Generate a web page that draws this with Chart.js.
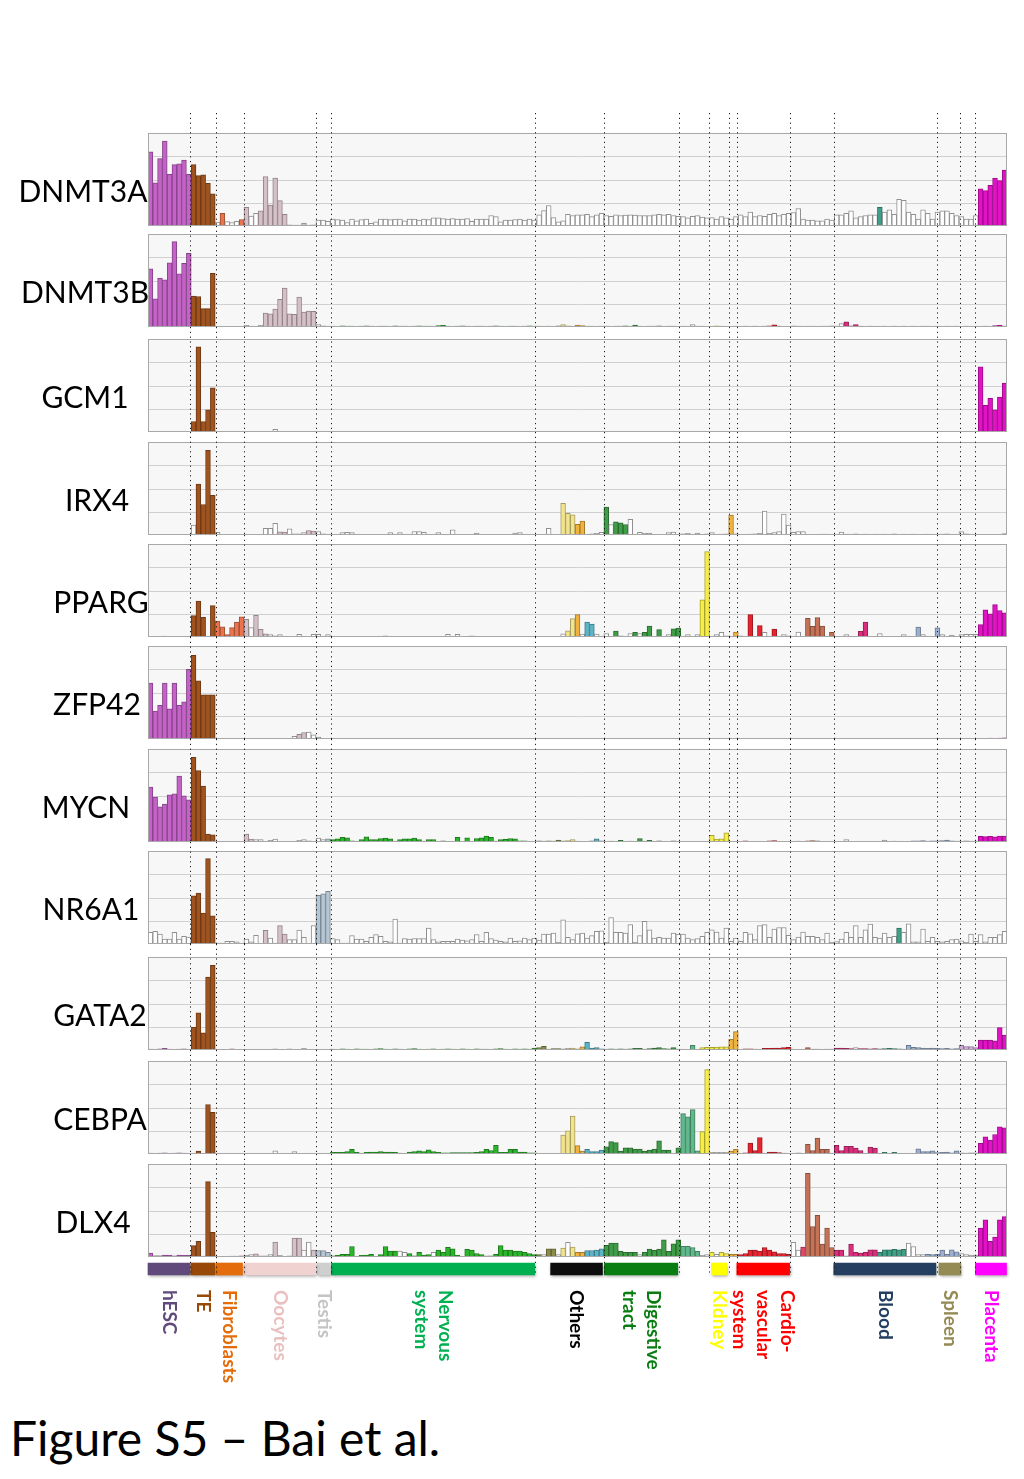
<!DOCTYPE html>
<html>
<head>
<meta charset="utf-8">
<script src="https://cdn.jsdelivr.net/npm/chart.js@4.4.1/dist/chart.umd.min.js"></script>
<style>
  html, body { margin: 0; padding: 0; background: #fff; }
  body { position: relative; width: 1024px; height: 1479px; overflow: hidden; font-family: Lato, "Open Sans", sans-serif; }
  canvas { position: absolute; left: 0; }
  .gene { position: absolute; font-size: 30px; line-height: 1; white-space: nowrap; transform: translate(-50%, -50%); color: #000; }
  #title { position: absolute; left: 10px; top: 1414px; font-size: 48px; line-height: 1; white-space: nowrap; color: #000; }
</style>
</head>
<body>
<div id="title">Figure S5 – Bai et al.</div>
<script>
// ---- data ----
const genes = ["DNMT3A", "DNMT3B", "GCM1", "IRX4", "PPARG", "ZFP42", "MYCN", "NR6A1", "GATA2", "CEBPA", "DLX4"];

// bar order: hESC(9) TE(5) Fibro(6) Oocytes(15) Testis(3) Nervous(43) Others(14) Digestive(16)
// unlabelled(4) Kidney(6) unlabelled(2) Cardio(11) unlabelled(9) Blood(21) Spleen(5) unlabelled(4) Placenta(6)
const dnmt3a = [
  3.19, 1.86, 2.9, 3.65, 2.22, 2.64, 2.67, 2.83, 2.22,
  2.64, 2.17, 2.2, 1.84, 1.38,
  0.17, 0.54, 0.19, 0.15, 0.2, 0.28,
  0.8, 0.43, 0.55, 0.65, 2.13, 0.9, 2.06, 1.09, 0.5, 0.05, 0.04, 0.04, 0.13, 0.04, 0.05,
  0.25, 0.25, 0.2,
  0.3, 0.28, 0.25, 0.15, 0.3, 0.22, 0.28, 0.3, 0.12, 0.18, 0.3, 0.3, 0.28, 0.3, 0.3, 0.22, 0.3, 0.3, 0.25, 0.3,
  0.28, 0.35, 0.35, 0.32, 0.3, 0.32, 0.3, 0.3, 0.32, 0.2, 0.3, 0.3, 0.3, 0.45, 0.4, 0.18, 0.25, 0.25, 0.28, 0.3,
  0.25, 0.3, 0.25,
  0.48, 0.66, 0.88, 0.36, 0.18, 0.22, 0.5, 0.45, 0.48, 0.48, 0.5, 0.4, 0.48, 0.55,
  0.45, 0.42, 0.48, 0.45, 0.47, 0.48, 0.47, 0.45, 0.45, 0.45, 0.48, 0.5, 0.48, 0.5, 0.45, 0.42,
  0.4, 0.35, 0.42, 0.45,
  0.38, 0.35, 0.36, 0.3, 0.4, 0.35,
  0.3, 0.4,
  0.48, 0.4, 0.6, 0.4, 0.45, 0.42, 0.5, 0.55, 0.45, 0.5, 0.55,
  0.58, 0.75, 0.3, 0.25, 0.25, 0.22, 0.22, 0.3, 0.25,
  0.48, 0.48, 0.55, 0.65, 0.35, 0.4, 0.45, 0.48, 0.48, 0.8, 0.6, 0.7, 0.5, 1.15, 1.1, 0.6, 0.5, 0.3, 0.7, 0.55, 0.3,
  0.6, 0.65, 0.65, 0.55, 0.45,
  0.4, 0.3, 0.3, 0.45,
  1.6, 1.52, 1.75, 2.05, 1.95, 2.4
];
const dnmt3b = [
  2.5, 1.21, 2.1, 2.03, 2.76, 3.67, 2.29, 2.74, 3.17,
  1.33, 1.31, 0.79, 0.79, 2.31,
  0.03, 0.02, 0.03, 0.02, 0.03, 0.03,
  0.07, 0.04, 0.03, 0.07, 0.6, 0.57, 0.77, 1.19, 1.67, 0.57, 0.54, 1.29, 0.64, 0.69, 0.67,
  0.1, 0.05, 0.04,
  0.04, 0.03, 0.05, 0.04, 0.04, 0.03, 0.04, 0.05, 0.04, 0.03, 0.04, 0.04, 0.03, 0.05, 0.04, 0.04, 0.03, 0.04, 0.05, 0.04,
  0.04, 0.03, 0.06, 0.07, 0.04, 0.03, 0.04, 0.05, 0.04, 0.03, 0.04, 0.04, 0.03, 0.04, 0.05, 0.04, 0.03, 0.04, 0.04, 0.03,
  0.04, 0.05, 0.04,
  0.04, 0.03, 0.04, 0.03, 0.05, 0.1, 0.05, 0.04, 0.08, 0.06, 0.04, 0.04, 0.03, 0.04,
  0.04, 0.03, 0.04, 0.04, 0.05, 0.04, 0.08, 0.04, 0.03, 0.04, 0.04, 0.05, 0.03, 0.04, 0.04, 0.03,
  0.04, 0.03, 0.1, 0.04,
  0.04, 0.03, 0.04, 0.05, 0.04, 0.03,
  0.03, 0.04,
  0.03, 0.04, 0.03, 0.04, 0.03, 0.04, 0.05, 0.09, 0.04, 0.03, 0.03,
  0.05, 0.04, 0.03, 0.04, 0.04, 0.03, 0.04, 0.04, 0.05,
  0.04, 0.15, 0.22, 0.05, 0.1, 0.04, 0.03, 0.04, 0.03, 0.03, 0.04, 0.03, 0.04, 0.03, 0.04, 0.03, 0.04, 0.03, 0.04, 0.04, 0.03,
  0.04, 0.03, 0.04, 0.03, 0.04,
  0.03, 0.04, 0.03, 0.04,
  0.03, 0.04, 0.03, 0.06, 0.07, 0.04
];
const gcm1 = [
  0.02, 0.02, 0.03, 0.02, 0.02, 0.02, 0.03, 0.02, 0.02,
  0.45, 3.66, 0.45, 0.95, 1.9,
  0.02, 0.02, 0.02, 0.02, 0.02, 0.02,
  0.02, 0.02, 0.02, 0.02, 0.02, 0.02, 0.12, 0.02, 0.02, 0.02, 0.02, 0.02, 0.02, 0.02, 0.02,
  0.02, 0.02, 0.02,
  0.02, 0.02, 0.02, 0.03, 0.02, 0.02, 0.02, 0.02, 0.03, 0.02, 0.02, 0.02, 0.02, 0.02, 0.03, 0.02, 0.02, 0.02, 0.02, 0.02,
  0.03, 0.02, 0.02, 0.02, 0.02, 0.02, 0.03, 0.02, 0.02, 0.02, 0.02, 0.02, 0.02, 0.03, 0.02, 0.02, 0.02, 0.02, 0.02, 0.03,
  0.02, 0.02, 0.02,
  0.02, 0.02, 0.03, 0.02, 0.02, 0.02, 0.02, 0.03, 0.02, 0.02, 0.02, 0.02, 0.02, 0.02,
  0.02, 0.02, 0.02, 0.03, 0.02, 0.02, 0.02, 0.02, 0.02, 0.03, 0.02, 0.02, 0.02, 0.02, 0.02, 0.02,
  0.02, 0.02, 0.02, 0.02,
  0.02, 0.03, 0.02, 0.02, 0.02, 0.02,
  0.02, 0.02,
  0.02, 0.02, 0.02, 0.03, 0.02, 0.02, 0.02, 0.02, 0.02, 0.02, 0.02,
  0.02, 0.02, 0.02, 0.02, 0.03, 0.02, 0.02, 0.02, 0.02,
  0.02, 0.02, 0.02, 0.02, 0.02, 0.03, 0.02, 0.02, 0.02, 0.02, 0.02, 0.02, 0.02, 0.02, 0.02, 0.02, 0.03, 0.02, 0.02, 0.02, 0.02,
  0.02, 0.02, 0.02, 0.02, 0.02,
  0.02, 0.02, 0.02, 0.02,
  2.8, 1.15, 1.45, 0.95, 1.5, 2.1
];
const irx4 = [
  0.03, 0.02, 0.03, 0.02, 0.02, 0.03, 0.02, 0.02, 0.03,
  0.43, 2.19, 1.31, 3.64, 1.71,
  0.11, 0.02, 0.02, 0.02, 0.02, 0.02,
  0.02, 0.02, 0.02, 0.02, 0.29, 0.29, 0.5, 0.14, 0.13, 0.27, 0.05, 0.05, 0.1, 0.19, 0.17,
  0.15, 0.05, 0.03,
  0.02, 0.02, 0.1, 0.12, 0.1, 0.03, 0.02, 0.02, 0.03, 0.02, 0.03, 0.02, 0.1, 0.03, 0.1, 0.03, 0.02, 0.15, 0.15, 0.12,
  0.03, 0.03, 0.1, 0.02, 0.03, 0.22, 0.03, 0.02, 0.02, 0.03, 0.08, 0.03, 0.02, 0.02, 0.03, 0.02, 0.03, 0.02, 0.08, 0.1,
  0.03, 0.02, 0.03,
  0.03, 0.03, 0.29, 0.03, 0.03, 1.36, 0.93, 0.87, 0.46, 0.6, 0.03, 0.05, 0.07, 0.11,
  1.2, 0.45, 0.57, 0.52, 0.45, 0.67, 0.03, 0.11, 0.07, 0.08, 0.03, 0.02, 0.03, 0.1, 0.13, 0.03,
  0.05, 0.07, 0.03, 0.08,
  0.03, 0.05, 0.1, 0.03, 0.04, 0.05,
  0.86, 0.05,
  0.03, 0.03, 0.04, 0.05, 0.07, 1.03, 0.07, 0.1, 0.15, 0.9, 0.43,
  0.12, 0.15, 0.15, 0.03, 0.03, 0.03, 0.04, 0.04, 0.03,
  0.03, 0.13, 0.04, 0.03, 0.05, 0.03, 0.04, 0.03, 0.04, 0.03, 0.04, 0.03, 0.05, 0.03, 0.04, 0.03, 0.04, 0.03, 0.03, 0.04, 0.03,
  0.03, 0.04, 0.05, 0.03, 0.03,
  0.15, 0.05, 0.03, 0.03,
  0.02, 0.02, 0.02, 0.02, 0.03, 0.06
];
const pparg = [
  0.03, 0.03, 0.02, 0.04, 0.03, 0.02, 0.03, 0.02, 0.03,
  0.92, 1.54, 0.85, 0.03, 1.35,
  0.69, 0.44, 0.1, 0.4, 0.64, 0.87,
  0.76, 0.4, 0.93, 0.33, 0.14, 0.1, 0.05, 0.1, 0.02, 0.02, 0.02, 0.12, 0.02, 0.02, 0.12,
  0.12, 0.03, 0.1,
  0.03, 0.02, 0.02, 0.03, 0.02, 0.02, 0.03, 0.02, 0.02, 0.03, 0.02, 0.05, 0.02, 0.02, 0.03, 0.02, 0.02, 0.02, 0.03, 0.02,
  0.02, 0.03, 0.02, 0.02, 0.12, 0.02, 0.12, 0.02, 0.03, 0.05, 0.02, 0.02, 0.03, 0.02, 0.02, 0.02, 0.03, 0.02, 0.02, 0.02,
  0.03, 0.02, 0.02,
  0.02, 0.02, 0.03, 0.03, 0.03, 0.14, 0.27, 0.79, 0.96, 0.13, 0.64, 0.56, 0.13, 0.03,
  0.15, 0.03, 0.25, 0.05, 0.03, 0.15, 0.2, 0.15, 0.2, 0.47, 0.03, 0.32, 0.03, 0.1, 0.35, 0.38,
  0.03, 0.1, 0.03, 0.1,
  1.6, 3.67, 0.03, 0.1, 0.2, 0.05,
  0.03, 0.21,
  0.05, 0.03, 0.96, 0.03, 0.49, 0.2, 0.03, 0.34, 0.03, 0.1, 0.05,
  0.03, 0.21, 0.03, 0.8, 0.46, 0.84, 0.47, 0.03, 0.2,
  0.03, 0.03, 0.1, 0.03, 0.03, 0.24, 0.64, 0.03, 0.03, 0.15, 0.03, 0.03, 0.03, 0.03, 0.1, 0.03, 0.03, 0.43, 0.1, 0.03, 0.03,
  0.39, 0.1, 0.03, 0.08, 0.03,
  0.1, 0.12, 0.12, 0.12,
  0.53, 1.17, 1.0, 1.39, 1.14, 1.04
];
const zfp42 = [
  2.4, 1.2, 1.45, 2.4, 1.3, 2.4, 1.45, 1.6, 3.0,
  3.6, 2.5, 1.9, 1.9, 1.9,
  0.03, 0.02, 0.02, 0.02, 0.02, 0.02,
  0.02, 0.02, 0.02, 0.02, 0.02, 0.02, 0.02, 0.02, 0.02, 0.03, 0.12, 0.2, 0.28, 0.3, 0.18,
  0.08, 0.03, 0.03,
  0.02, 0.03, 0.02, 0.02, 0.03, 0.02, 0.02, 0.03, 0.02, 0.02, 0.03, 0.02, 0.02, 0.03, 0.02, 0.02, 0.03, 0.02, 0.02, 0.02,
  0.03, 0.02, 0.02, 0.03, 0.02, 0.02, 0.03, 0.02, 0.02, 0.03, 0.02, 0.02, 0.03, 0.02, 0.02, 0.03, 0.02, 0.02, 0.03, 0.02,
  0.02, 0.03, 0.02,
  0.03, 0.02, 0.02, 0.03, 0.02, 0.02, 0.03, 0.02, 0.02, 0.03, 0.02, 0.02, 0.03, 0.02,
  0.02, 0.03, 0.02, 0.02, 0.03, 0.02, 0.02, 0.03, 0.02, 0.02, 0.03, 0.02, 0.02, 0.03, 0.02, 0.02,
  0.02, 0.03, 0.02, 0.02,
  0.03, 0.02, 0.02, 0.03, 0.02, 0.02,
  0.02, 0.03,
  0.02, 0.02, 0.03, 0.02, 0.02, 0.03, 0.02, 0.02, 0.03, 0.02, 0.02,
  0.02, 0.03, 0.02, 0.02, 0.03, 0.02, 0.02, 0.03, 0.02,
  0.03, 0.02, 0.02, 0.03, 0.02, 0.02, 0.03, 0.02, 0.02, 0.03, 0.02, 0.02, 0.03, 0.02, 0.02, 0.03, 0.02, 0.02, 0.03, 0.02, 0.02,
  0.02, 0.03, 0.02, 0.02, 0.03,
  0.02, 0.02, 0.03, 0.02,
  0.03, 0.03, 0.04, 0.03, 0.04, 0.05
];
const mycn = [
  2.36, 1.93, 1.51, 1.63, 2.03, 2.07, 2.84, 1.99, 1.81,
  3.64, 3.07, 2.41, 0.34, 0.31,
  0.02, 0.02, 0.02, 0.02, 0.02, 0.02,
  0.34, 0.13, 0.1, 0.1, 0.02, 0.07, 0.13, 0.03, 0.02, 0.02, 0.02, 0.07, 0.1, 0.05, 0.03,
  0.17, 0.1, 0.14,
  0.1, 0.14, 0.2, 0.18, 0.05, 0.03, 0.1, 0.22, 0.1, 0.1, 0.15, 0.17, 0.14, 0.02, 0.1, 0.14, 0.14, 0.17, 0.1, 0.03,
  0.1, 0.1, 0.03, 0.05, 0.02, 0.03, 0.2, 0.03, 0.18, 0.03, 0.15, 0.18, 0.25, 0.2, 0.03, 0.1, 0.12, 0.15, 0.14, 0.05,
  0.05, 0.03, 0.03,
  0.05, 0.04, 0.05, 0.04, 0.08, 0.05, 0.06, 0.1, 0.04, 0.03, 0.03, 0.05, 0.14, 0.05,
  0.03, 0.04, 0.03, 0.07, 0.03, 0.04, 0.03, 0.15, 0.04, 0.07, 0.03, 0.05, 0.03, 0.03, 0.05, 0.03,
  0.03, 0.03, 0.03, 0.03,
  0.02, 0.02, 0.29, 0.13, 0.14, 0.39,
  0.03, 0.03,
  0.03, 0.05, 0.03, 0.03, 0.03, 0.03, 0.05, 0.06, 0.03, 0.03, 0.03,
  0.03, 0.04, 0.03, 0.05, 0.06, 0.05, 0.03, 0.03, 0.03,
  0.03, 0.03, 0.1, 0.03, 0.03, 0.03, 0.03, 0.03, 0.03, 0.03, 0.08, 0.03, 0.04, 0.03, 0.03, 0.03, 0.05, 0.05, 0.06, 0.04, 0.05,
  0.05, 0.06, 0.08, 0.05, 0.04,
  0.04, 0.05, 0.04, 0.04,
  0.24, 0.23, 0.24, 0.22, 0.25, 0.25
];
const nr6a1 = [
  0.5, 0.54, 0.43, 0.21, 0.21, 0.5, 0.21, 0.33, 0.3,
  2.07, 2.19, 1.33, 3.67, 1.21,
  0.04, 0.04, 0.11, 0.11, 0.09, 0.03,
  0.21, 0.09, 0.37, 0.03, 0.59, 0.26, 0.04, 0.79, 0.43, 0.19, 0.19, 0.6, 0.29, 0.02, 0.79,
  2.09, 2.16, 2.27,
  0.23, 0.19, 0.04, 0.04, 0.36, 0.21, 0.21, 0.11, 0.29, 0.4, 0.33, 0.11, 0.09, 1.07, 0.04, 0.23, 0.21, 0.23, 0.23, 0.23,
  0.69, 0.19, 0.09, 0.11, 0.11, 0.11, 0.21, 0.17, 0.14, 0.19, 0.4, 0.11, 0.5, 0.23, 0.17, 0.11, 0.09, 0.26, 0.11, 0.14,
  0.26, 0.19, 0.26,
  0.17, 0.43, 0.43, 0.47, 0.07, 1.04, 0.29, 0.19, 0.44, 0.47, 0.26, 0.36, 0.54, 0.57,
  0.07, 1.14, 0.5, 0.5, 0.47, 0.83, 0.07, 0.36, 0.97, 0.61, 0.26, 0.29, 0.26, 0.26, 0.47, 0.43,
  0.43, 0.26, 0.19, 0.23,
  0.33, 0.5, 0.61, 0.51, 0.26, 0.69,
  0.11, 0.26,
  0.11, 0.5, 0.44, 0.19, 0.79, 0.83, 0.29, 0.64, 0.71, 0.71, 0.37,
  0.19, 0.3, 0.51, 0.33, 0.33, 0.29, 0.19, 0.47, 0.07,
  0.1, 0.21, 0.5, 0.29, 0.79, 0.29, 0.61, 0.86, 0.29, 0.26, 0.47, 0.29, 0.33, 0.69, 0.5, 0.87, 0.09, 0.09, 0.64, 0.11, 0.29,
  0.11, 0.09, 0.11, 0.19, 0.21,
  0.14, 0.07, 0.43, 0.11,
  0.4, 0.09, 0.29, 0.29, 0.4, 0.54
];
const gata2 = [
  0.04, 0.03, 0.05, 0.07, 0.04, 0.03, 0.04, 0.05, 0.03,
  0.97, 1.6, 0.74, 3.14, 3.64,
  0.02, 0.02, 0.02, 0.05, 0.03, 0.02,
  0.02, 0.02, 0.03, 0.02, 0.02, 0.02, 0.05, 0.02, 0.03, 0.05, 0.02, 0.02, 0.07, 0.02, 0.02,
  0.03, 0.03, 0.03,
  0.04, 0.03, 0.05, 0.04, 0.03, 0.05, 0.04, 0.04, 0.03, 0.05, 0.06, 0.04, 0.03, 0.05, 0.04, 0.03, 0.05, 0.06, 0.04, 0.03,
  0.04, 0.05, 0.03, 0.04, 0.05, 0.04, 0.03, 0.05, 0.04, 0.03, 0.05, 0.04, 0.04, 0.03, 0.05, 0.06, 0.04, 0.03, 0.05, 0.04,
  0.05, 0.04, 0.08,
  0.1, 0.16, 0.04, 0.06, 0.06, 0.05, 0.07, 0.08, 0.05, 0.14, 0.33, 0.08, 0.1, 0.05,
  0.04, 0.05, 0.04, 0.05, 0.04, 0.05, 0.07, 0.07, 0.04, 0.06, 0.08, 0.1, 0.06, 0.05, 0.1, 0.04,
  0.03, 0.02, 0.2, 0.03,
  0.1, 0.12, 0.12, 0.13, 0.14, 0.14,
  0.46, 0.79,
  0.03, 0.05, 0.05, 0.04, 0.03, 0.07, 0.07, 0.08, 0.08, 0.1, 0.12,
  0.02, 0.02, 0.03, 0.1, 0.04, 0.04, 0.03, 0.04, 0.04,
  0.08, 0.08, 0.07, 0.06, 0.1, 0.06, 0.06, 0.05, 0.06, 0.05, 0.06, 0.07, 0.06, 0.05, 0.04, 0.2, 0.12, 0.1, 0.08, 0.07, 0.08,
  0.07, 0.06, 0.07, 0.05, 0.06,
  0.2, 0.15, 0.15, 0.1,
  0.43, 0.43, 0.43, 0.39, 0.96, 0.64
];
const cebpa = [
  0.04, 0.03, 0.04, 0.05, 0.03, 0.04, 0.05, 0.04, 0.03,
  0.02, 0.13, 0.02, 2.13, 1.79,
  0.02, 0.02, 0.02, 0.02, 0.02, 0.02,
  0.02, 0.02, 0.02, 0.02, 0.02, 0.02, 0.14, 0.02, 0.02, 0.02, 0.1, 0.02, 0.02, 0.02, 0.02,
  0.03, 0.03, 0.03,
  0.07, 0.07, 0.07, 0.1, 0.2, 0.07, 0.02, 0.07, 0.08, 0.08, 0.1, 0.08, 0.08, 0.07, 0.04, 0.02, 0.08, 0.1, 0.14, 0.1,
  0.18, 0.1, 0.07, 0.05, 0.05, 0.06, 0.06, 0.06, 0.06, 0.06, 0.07, 0.1, 0.2, 0.15, 0.37, 0.07, 0.07, 0.2, 0.2, 0.08,
  0.08, 0.05, 0.05,
  0.03, 0.03, 0.03, 0.03, 0.03, 0.81, 1.0, 1.63, 0.36, 0.13, 0.2, 0.1, 0.1, 0.17,
  0.31, 0.53, 0.49, 0.13, 0.27, 0.27, 0.21, 0.21, 0.13, 0.17, 0.21, 0.57, 0.17, 0.17, 0.03, 0.27,
  1.74, 1.6, 1.91, 0.14,
  0.96, 3.63, 0.07, 0.07, 0.07, 0.07,
  0.13, 0.2,
  0.03, 0.05, 0.47, 0.15, 0.71, 0.03, 0.08, 0.08, 0.06, 0.04, 0.02,
  0.03, 0.05, 0.03, 0.42, 0.15, 0.68, 0.2, 0.2, 0.03,
  0.37, 0.15, 0.33, 0.33, 0.25, 0.15, 0.03, 0.3, 0.25, 0.03, 0.07, 0.03, 0.07, 0.03, 0.02, 0.02, 0.02, 0.22, 0.1, 0.1, 0.14,
  0.06, 0.07, 0.08, 0.05, 0.14,
  0.05, 0.04, 0.05, 0.05,
  0.46, 0.74, 0.6, 0.84, 1.17, 1.13
];
const dlx4 = [
  0.17, 0.06, 0.06, 0.08, 0.07, 0.05, 0.08, 0.07, 0.07,
  0.49, 0.67, 0.04, 3.24, 1.06,
  0.03, 0.03, 0.03, 0.04, 0.04, 0.05,
  0.07, 0.1, 0.14, 0.05, 0.05, 0.1, 0.64, 0.07, 0.03, 0.05, 0.81, 0.81, 0.3, 0.64, 0.3,
  0.28, 0.28, 0.2,
  0.05, 0.07, 0.12, 0.12, 0.45, 0.03, 0.07, 0.08, 0.12, 0.03, 0.1, 0.45, 0.25, 0.25, 0.25, 0.2, 0.15, 0.05, 0.2, 0.08,
  0.1, 0.2, 0.3, 0.2, 0.42, 0.35, 0.07, 0.03, 0.33, 0.3, 0.15, 0.1, 0.05, 0.05, 0.12, 0.49, 0.3, 0.3, 0.25, 0.25,
  0.2, 0.15, 0.1,
  0.1, 0.1, 0.35, 0.35, 0.1, 0.38, 0.63, 0.43, 0.2, 0.2, 0.28, 0.28, 0.3, 0.35,
  0.5, 0.6, 0.6, 0.24, 0.2, 0.2, 0.2, 0.1, 0.2, 0.34, 0.29, 0.34, 0.74, 0.24, 0.57, 0.74,
  0.46, 0.46, 0.41, 0.24,
  0.07, 0.1, 0.2, 0.12, 0.2, 0.15,
  0.12, 0.12,
  0.1, 0.15, 0.3, 0.3, 0.25, 0.41, 0.3, 0.22, 0.15, 0.15, 0.12,
  0.63, 0.3, 0.43, 3.6, 1.31, 1.79, 0.56, 1.24, 0.41,
  0.3, 0.3, 0.05, 0.56, 0.2, 0.17, 0.2, 0.31, 0.31, 0.2, 0.31, 0.31, 0.33, 0.31, 0.33, 0.6, 0.45, 0.1, 0.1, 0.12, 0.1,
  0.12, 0.3, 0.12, 0.31, 0.22,
  0.15, 0.1, 0.08, 0.08,
  1.24, 1.6, 0.67, 0.86, 1.6, 1.74
];
const geneValues = [dnmt3a, dnmt3b, gcm1, irx4, pparg, zfp42, mycn, nr6a1, gata2, cebpa, dlx4];

// which bars are drawn in their tissue colour (1) or as open white bars (0); "c*n" repeats c n times
const geneFills = [
  "1*9 1*5 010001 100111111000100 000 0*43 0*14 0*16 0*4 0*6 00 0*11 0*9 0*9 1 0*11 0*5 0*4 1*6",
  "1*9 1*5 0*6 0000 1*11 000 1*43 1*14 1*16 1101 1*6 11 1*11 0*9 1011 1*17 1*5 0*4 1*6",
  "0*9 1*5 0*6 0*15 0*3 0*43 0*14 0*16 0*4 0*6 0*2 0*11 0*9 0*21 0*5 0*4 1*6",
  "0*9 01111 0*6 000000011000011 000 0*43 0*5 11111 0*4 101110 0*10 0*4 0*6 10 0*11 0*9 0*21 0*5 0*4 0*6",
  "0*9 11101 1*6 101110000000000 000 0*43 0*6 111011 00 0010001011010011 0*4 110000 01 00101001000 000111101 0000011 0*10 1000 10000 0000 111111",
  "1*9 1*5 0*6 0*10 01100 000 1*43 0*14 1*16 0*4 0*6 0*2 1*11 0*9 1*21 0*5 0*4 1*6",
  "1*9 1*5 0*6 11 0*13 001 1*43 1*14 1*16 1*4 1*6 11 1*11 1*9 11 0 1*7 0 1*10 1*5 1*4 1*6",
  "0*9 1*5 0*6 000010011000000 111 0*43 0*14 0*16 0*4 0*6 0*2 0*11 0*9 0*13 1 0*7 0*5 0*4 0*6",
  "1*9 1*5 1*6 0*15 0*3 1*43 1*5 00 1*7 1*16 1*4 1*6 11 1*11 1*9 1111 0 1*16 1*5 1*4 1*6",
  "1*9 1*5 0*6 0*15 0*3 1*43 0*5 1*9 1*16 1*4 11 0000 11 1*11 00 1*7 1*21 1*5 0 111 1*6",
  "100111111 11011 1*6 001000100011001 111 1*9 0 1*4 00 1*5 0 1*10 0 1*10 10110101111111 1*7 0 1*8 1*4 001011 11 1*11 001111111 110 1*12 0000 11 1*5 0*4 1*6"
];

// tissue colour of each bar, as runs of bars
const runSizes = [9, 5, 6, 15, 3, 43, 5, 3, 2, 4, 16, 4, 6, 2, 11, 3, 6, 9, 6, 6, 5, 4, 6];
const runColors = ["#c462c8", "#a0531e", "#e9744d", "#d6c0c8", "#b4c5d3", "#2bb52b", "#8c8c4a", "#f2e48c", "#f1b33f",
  "#5cb4c7", "#3f9c47", "#60b98c", "#f6ee45", "#f1b33f", "#e8242e", "#e2476b", "#c57257", "#dc2e7c", "#40a087",
  "#9bafd1", "#9bafd1", "#d3a8da", "#e312c6"];

// tissue bands under the panels (in bar units) and their labels
const tissueNames = ["hESC", "TE", "Fibroblasts", "Oocytes", "Testis", "Nervous\nsystem", "Others", "Digestive\ntract",
  "Kidney", "Cardio-\nvascular\nsystem", "Blood", "Spleen", "Placenta"];
const tissueStart = [0, 8.9, 14.1, 20.1, 35.2, 38.2, 83.9, 95.1, 117.4, 122.7, 142.9, 164.8, 172.4];
const tissueEnd = [8.7, 13.9, 19.7, 35.0, 38.0, 80.6, 94.7, 110.4, 120.6, 133.7, 164.2, 169.4, 178.9];
const tissueColors = ["#604a7b", "#984807", "#e46c0a", "#f0d2d0", "#cfcfcf", "#00b050", "#0d0d0d", "#0a7d12",
  "#ffff00", "#ff0000", "#243f60", "#948a54", "#ff00ff"];
const labelColors = ["#604a7b", "#984807", "#e46c0a", "#e9c0bf", "#c4c4c4", "#00b050", "#000000", "#0a7d12",
  "#ffff00", "#ff0000", "#243f60", "#948a54", "#ff00ff"];

// dotted separators, in bar units
const dividers = [8.85, 14.1, 20.0, 35.1, 38.2, 80.6, 95.1, 110.6, 116.9, 121.0, 122.7, 133.8, 142.9, 164.4, 169.25, 172.4];

// ---- layout ----
const PLOT_LEFT = 148, PLOT_RIGHT = 1007, PANEL_H = 93;
const panelTops = [133, 234, 339, 442, 544, 646, 749, 851, 957, 1061, 1164];
const labelCenters = [83, 85, 85, 97, 101, 97, 86, 91, 100, 100, 93];
const NBARS = 179;

const expand = s => s.split(" ").map(t => t.includes("*") ? t[0].repeat(+t.split("*")[1]) : t).join("");

function shade(hex, f) {
  const n = parseInt(hex.slice(1), 16);
  const r = Math.round(((n >> 16) & 255) * f);
  const g = Math.round(((n >> 8) & 255) * f);
  const b = Math.round((n & 255) * f);
  return "rgb(" + r + "," + g + "," + b + ")";
}

const barColors = [];
runSizes.forEach((n, k) => { for (let j = 0; j < n; j++) barColors.push(runColors[k]); });

function dividerX(chart, u) {
  const xs = chart.scales.x;
  if (xs.type === "linear") return xs.getPixelForValue(u);
  const w = xs.getPixelForValue(1) - xs.getPixelForValue(0);
  return xs.getPixelForValue(0) - w / 2 + u * w;
}

function drawDividers(chart, y0, y1) {
  const ctx = chart.ctx;
  ctx.save();
  ctx.strokeStyle = "#1a1a1a";
  ctx.lineWidth = 1;
  ctx.setLineDash([1.2, 3.6]);
  dividers.forEach(u => {
    const x = Math.round(dividerX(chart, u)) + 0.5;
    ctx.beginPath();
    ctx.moveTo(x, y0);
    ctx.lineTo(x, y1);
    ctx.stroke();
  });
  ctx.restore();
}

const panelDecor = {
  id: "panelDecor",
  beforeDatasetsDraw(chart) {
    const { ctx, chartArea: a } = chart;
    const y = chart.scales.y;
    ctx.save();
    ctx.fillStyle = "#f7f7f7";
    ctx.fillRect(a.left, a.top, a.right - a.left, a.bottom - a.top);
    ctx.strokeStyle = "#d0d0d0";
    ctx.lineWidth = 1;
    [1, 2, 3].forEach(v => {
      const py = Math.round(y.getPixelForValue(v)) + 0.5;
      ctx.beginPath();
      ctx.moveTo(a.left, py);
      ctx.lineTo(a.right, py);
      ctx.stroke();
    });
    ctx.restore();
  },
  afterDatasetsDraw(chart) {
    const { ctx, chartArea: a } = chart;
    ctx.save();
    ctx.strokeStyle = "#a8a8a8";
    ctx.lineWidth = 1;
    ctx.strokeRect(Math.round(a.left) + 0.5, Math.round(a.top) + 0.5,
      Math.round(a.right - a.left) - 1, Math.round(a.bottom - a.top) - 1);
    ctx.restore();
    drawDividers(chart, 0, a.bottom);
  }
};

function addCanvas(top, height) {
  const cv = document.createElement("canvas");
  cv.width = 1024;
  cv.height = height;
  cv.style.top = top + "px";
  cv.style.width = "1024px";
  cv.style.height = height + "px";
  document.body.appendChild(cv);
  return cv;
}

const barLabels = Array.from({ length: NBARS }, (_, k) => String(k));

genes.forEach((gene, i) => {
  const vals = geneValues[i];
  const fill = expand(geneFills[i]);
  if (vals.length !== NBARS || fill.length !== NBARS) {
    throw new Error(gene + " values " + vals.length + " fill " + fill.length);
  }
  const top = panelTops[i];
  const canvasTop = i === 0 ? 113 : panelTops[i - 1] + PANEL_H;
  const cv = addCanvas(canvasTop, top + PANEL_H - canvasTop);

  new Chart(cv, {
    type: "bar",
    data: {
      labels: barLabels,
      datasets: [{
        data: vals,
        backgroundColor: vals.map((v, k) => fill[k] === "1" ? barColors[k] : "#ffffff"),
        borderColor: vals.map((v, k) => fill[k] === "1" ? shade(barColors[k], 0.68) : "#8f8f8f"),
        borderWidth: 1,
        barPercentage: 1,
        categoryPercentage: 1
      }]
    },
    options: {
      responsive: false,
      animation: false,
      events: [],
      layout: { padding: { left: PLOT_LEFT, right: 1024 - PLOT_RIGHT, top: top - canvasTop, bottom: 0 } },
      plugins: { legend: { display: false }, tooltip: { enabled: false } },
      scales: {
        x: { display: false },
        y: { display: false, min: 0, max: 4 }
      }
    },
    plugins: [panelDecor]
  });

  const lab = document.createElement("div");
  lab.className = "gene";
  lab.textContent = gene;
  lab.style.left = labelCenters[i] + "px";
  lab.style.top = (top + 57) + "px";
  document.body.appendChild(lab);
});

// tissue band with rotated labels
const bandTop = panelTops[panelTops.length - 1] + PANEL_H;
const bandCanvas = addCanvas(bandTop, 1410 - bandTop);

const bandDecor = {
  id: "bandDecor",
  beforeDatasetsDraw(chart) {
    const ctx = chart.ctx;
    ctx.save();
    ctx.shadowColor = "rgba(0,0,0,0.35)";
    ctx.shadowBlur = 3;
    ctx.shadowOffsetX = 1;
    ctx.shadowOffsetY = 2;
  },
  afterDatasetsDraw(chart) {
    const ctx = chart.ctx;
    ctx.restore();
    drawDividers(chart, 0, chart.chartArea.bottom);
    const xs = chart.scales.x;
    ctx.save();
    ctx.font = "bold 19px Lato, 'Open Sans', sans-serif";
    ctx.textAlign = "left";
    ctx.textBaseline = "middle";
    const lh = 24;
    tissueNames.forEach((name, k) => {
      const x = xs.getPixelForValue((tissueStart[k] + tissueEnd[k]) / 2);
      const lines = name.split("\n");
      ctx.save();
      ctx.translate(x, 1290 - bandTop);
      ctx.rotate(Math.PI / 2);
      ctx.fillStyle = labelColors[k];
      lines.forEach((ln, j) => ctx.fillText(ln, 0, (j - (lines.length - 1) / 2) * lh));
      ctx.restore();
    });
    ctx.restore();
  }
};

new Chart(bandCanvas, {
  type: "bar",
  data: {
    labels: ["band"],
    datasets: tissueNames.map((name, k) => ({
      label: name,
      data: [[tissueStart[k], tissueEnd[k]]],
      backgroundColor: tissueColors[k],
      borderWidth: 0,
      barPercentage: 1,
      categoryPercentage: 1,
      grouped: false,
      clip: false
    }))
  },
  options: {
    indexAxis: "y",
    responsive: false,
    animation: false,
    events: [],
    layout: { padding: { left: PLOT_LEFT, right: 1024 - PLOT_RIGHT, top: 1263 - bandTop, bottom: 1410 - 1275 } },
    plugins: { legend: { display: false }, tooltip: { enabled: false } },
    scales: {
      x: { type: "linear", display: false, min: 0, max: NBARS },
      y: { display: false }
    }
  },
  plugins: [bandDecor]
});
</script>
</body>
</html>
